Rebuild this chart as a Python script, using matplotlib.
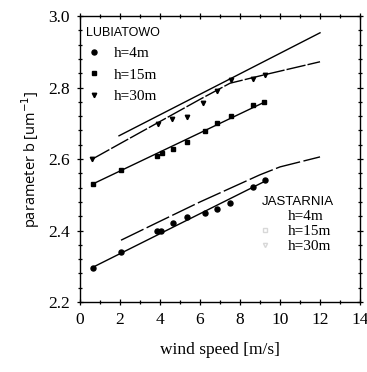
import matplotlib.pyplot as plt
from matplotlib.lines import Line2D
from matplotlib.ticker import MultipleLocator

plt.rcParams['mathtext.fontset'] = 'dejavusans'

# Lubiatowo, h=15m (squares)
wind_lub15 = [0.63, 2.03, 3.83, 4.08, 4.63, 5.33, 6.25, 6.85, 7.53, 8.67, 9.22]
b_lub15 = [2.530, 2.569, 2.609, 2.616, 2.629, 2.649, 2.679, 2.700, 2.720, 2.750, 2.759]
# Lubiatowo, h=30m (triangles)
wind_lub30 = [0.62, 3.88, 4.62, 5.33, 6.17, 6.83, 7.53, 8.67, 9.25]
b_lub30 = [2.600, 2.697, 2.711, 2.717, 2.756, 2.789, 2.820, 2.825, 2.836]
# Jastarnia, h=4m (circles)
wind_jas4 = [0.63, 2.03, 3.83, 4.05, 4.63, 5.33, 6.23, 6.83, 7.50, 8.67, 9.25]
b_jas4 = [2.296, 2.339, 2.400, 2.400, 2.420, 2.437, 2.448, 2.460, 2.476, 2.521, 2.540]

# fitted curves
fit_lub15_x = [0.63, 9.22]
fit_lub15_y = [2.530, 2.759]
fit_lub_top_x = [1.95, 12.0]
fit_lub_top_y = [2.665, 2.953]
fit_lub30_x = [0.62, 2.0, 4.0, 6.0, 7.5, 9.25, 12.0]
fit_lub30_y = [2.600, 2.643, 2.705, 2.767, 2.812, 2.836, 2.872]
fit_jas4_x = [0.63, 9.25]
fit_jas4_y = [2.297, 2.538]
fit_jas_up_x = [2.05, 4.0, 6.0, 7.5, 9.0, 10.0, 12.0]
fit_jas_up_y = [2.373, 2.426, 2.480, 2.518, 2.556, 2.578, 2.606]

fig = plt.figure(figsize=(3.67, 3.72), dpi=100)
ax = fig.add_axes([0.218, 0.188, 0.763, 0.769])

ax.plot(fit_lub_top_x, fit_lub_top_y, '-', color='black', lw=1.0)
ax.plot(fit_lub30_x, fit_lub30_y, color='black', lw=1.0, dashes=(14, 1.5))
ax.plot(fit_lub15_x, fit_lub15_y, '-', color='black', lw=1.0)
ax.plot(fit_jas4_x, fit_jas4_y, '-', color='black', lw=1.0)
ax.plot(fit_jas_up_x, fit_jas_up_y, color='black', lw=1.0, dashes=(18, 2.5))

ax.plot(wind_lub15, b_lub15, 's', color='black', ms=3.0)
ax.plot(wind_lub30, b_lub30, 'v', color='black', ms=3.2)
ax.plot(wind_jas4, b_jas4, 'o', color='black', ms=3.6)

ax.set_xlim(0, 14)
ax.set_ylim(2.2, 3.0)
ax.xaxis.set_major_locator(MultipleLocator(2))
ax.xaxis.set_minor_locator(MultipleLocator(1))
ax.yaxis.set_major_locator(MultipleLocator(0.2))
ax.yaxis.set_minor_locator(MultipleLocator(0.04))
ax.tick_params(which='both', direction='inout', top=True, right=True, width=0.9)
ax.tick_params(which='major', length=5, pad=5)
ax.tick_params(which='minor', length=3.2)
for s in ax.spines.values():
    s.set_linewidth(1.0)

for lab in ax.get_xticklabels() + ax.get_yticklabels():
    lab.set_fontfamily('Liberation Serif')
    lab.set_fontsize(12.5)

ax.set_xlabel('wind speed [m/s]', family='Liberation Serif', fontsize=12.5, labelpad=10)
ax.set_ylabel('parameter b [um$^{-1}$]', family='Open Sans', fontsize=10.5, labelpad=4)

lub_handles = [
    Line2D([], [], ls='none', marker='o', color='black', ms=3.6),
    Line2D([], [], ls='none', marker='s', color='black', ms=3.0),
    Line2D([], [], ls='none', marker='v', color='black', ms=3.2),
]
leg1 = ax.legend(lub_handles, ['h=4m', 'h=15m', 'h=30m'], title='LUBIATOWO',
                 loc='upper left', bbox_to_anchor=(0.022, 0.962), frameon=False,
                 borderpad=0, borderaxespad=0, handlelength=1.05, handletextpad=0.75,
                 labelspacing=0.5, alignment='left',
                 prop={'family': 'Liberation Serif', 'size': 11},
                 title_fontproperties={'family': 'Liberation Sans', 'size': 9})
ax.add_artist(leg1)

jas_handles = [
    Line2D([], [], ls='none', marker='None'),
    Line2D([], [], ls='none', marker='s', mfc='none', mec='#d8d8d8', ms=3),
    Line2D([], [], ls='none', marker='v', mfc='none', mec='#d8d8d8', ms=3),
]
ax.legend(jas_handles, ['h=4m', 'h=15m', 'h=30m'], title='JASTARNIA',
          loc='upper left', bbox_to_anchor=(0.65, 0.372), frameon=False,
          borderpad=0, borderaxespad=0, handlelength=0.4, handletextpad=1.3,
          labelspacing=0.1, alignment='left',
          prop={'family': 'Liberation Serif', 'size': 11},
          title_fontproperties={'family': 'Liberation Sans', 'size': 9.5})

fig.savefig('out.png', dpi=100)
